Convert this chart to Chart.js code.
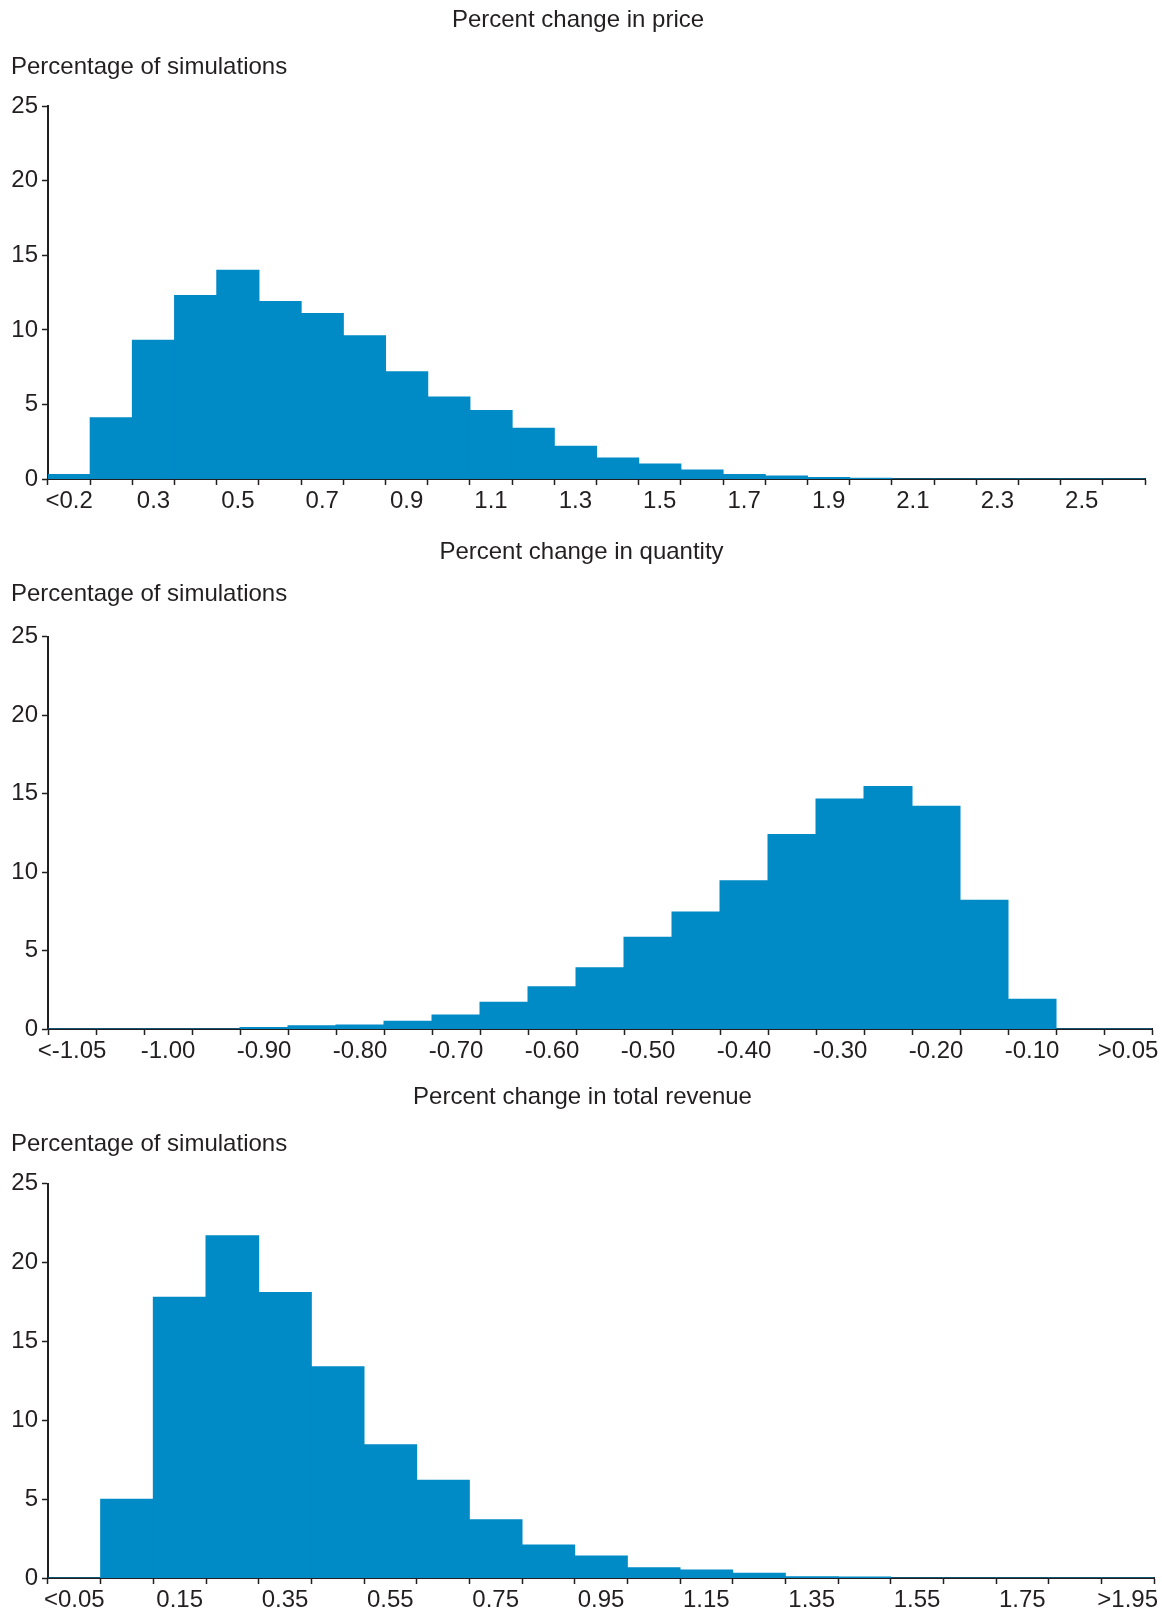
<!DOCTYPE html>
<html>
<head>
<meta charset="utf-8">
<title>Percent change simulations</title>
<script src="https://cdn.jsdelivr.net/npm/chart.js@4.4.1/dist/chart.umd.min.js"></script>
<style>
    body { margin: 0; background: #ffffff; }
    .panel { position: absolute; left: 0; width: 1162px; }
</style>
</head>
<body>
<div class="panel" style="top:0px;height:514px"><canvas id="priceChart"></canvas></div>
<div class="panel" style="top:532px;height:532px"><canvas id="quantityChart"></canvas></div>
<div class="panel" style="top:1077px;height:536px"><canvas id="revenueChart"></canvas></div>
<script>
// bins of each histogram (only every other label is printed)
const priceLabels = ["<0.2", "0.2", "0.3", "0.4", "0.5", "0.6", "0.7", "0.8", "0.9", "1.0", "1.1", "1.2", "1.3",
    "1.4", "1.5", "1.6", "1.7", "1.8", "1.9", "2.0", "2.1", "2.2", "2.3", "2.4", "2.5", "2.6"];
const priceValues = [0.3, 4.1, 9.3, 12.3, 14.0, 11.9, 11.1, 9.6, 7.2, 5.5, 4.6, 3.4, 2.2,
    1.4, 1.0, 0.6, 0.3, 0.2, 0.1, 0.05, 0, 0, 0, 0, 0, 0];

const quantityLabels = ["<-1.05", "-1.05", "-1.00", "-0.95", "-0.90", "-0.85", "-0.80", "-0.75", "-0.70", "-0.65",
    "-0.60", "-0.55", "-0.50", "-0.45", "-0.40", "-0.35", "-0.30", "-0.25", "-0.20", "-0.15", "-0.10", "-0.05", ">0.05"];
const quantityValues = [0, 0, 0, 0, 0.1, 0.2, 0.25, 0.5, 0.9, 1.7,
    2.7, 3.9, 5.85, 7.45, 9.45, 12.4, 14.65, 15.45, 14.2, 8.2, 1.9, 0, 0];

const revenueLabels = ["<0.05", "0.05", "0.15", "0.25", "0.35", "0.45", "0.55", "0.65", "0.75", "0.85", "0.95",
    "1.05", "1.15", "1.25", "1.35", "1.45", "1.55", "1.65", "1.75", "1.85", ">1.95"];
const revenueValues = [0, 5.0, 17.8, 21.7, 18.1, 13.4, 8.45, 6.2, 3.7, 2.1, 1.4,
    0.65, 0.5, 0.3, 0.08, 0.06, 0, 0, 0, 0, 0];

const yAxisTitle = "Percentage of simulations";
const yMax = 25;
const yStep = 5;

const ink = "#231f20";
const barBlue = "#008ac6";

Chart.defaults.font.family = "'Liberation Sans', Arial, Helvetica, sans-serif";
Chart.defaults.font.size = 24;
Chart.defaults.color = ink;

function histogram(canvasId, title, labels, values, space) {
    const ctx = document.getElementById(canvasId).getContext('2d');
    return new Chart(ctx, {
        type: 'bar',
        data: {
            labels: labels,
            datasets: [{
                data: values,
                backgroundColor: barBlue,
                borderWidth: 0,
                inflateAmount: 0.5,
                categoryPercentage: 1.0,
                barPercentage: 1.0
            }]
        },
        options: {
            responsive: true,
            maintainAspectRatio: false,
            animation: false,
            layout: {
                padding: { left: 11, right: space.right, top: 0, bottom: 0 }
            },
            plugins: {
                legend: { display: false },
                tooltip: { enabled: false },
                title: {
                    display: true,
                    text: title,
                    font: { weight: 'normal' },
                    padding: { top: 6, bottom: 0 }
                },
                subtitle: {
                    display: true,
                    text: yAxisTitle,
                    align: 'start',
                    color: ink,
                    font: { size: 24, weight: 'normal' },
                    padding: { top: space.subTop, bottom: space.subBottom }
                }
            },
            scales: {
                x: {
                    offset: true,
                    z: 1,
                    afterFit: function (scale) {
                        scale.height = 35;
                    },
                    grid: {
                        offset: true,
                        drawOnChartArea: false,
                        tickLength: 6,
                        tickWidth: 1.5,
                        tickColor: ink
                    },
                    border: { color: ink, width: 2 },
                    ticks: {
                        autoSkip: false,
                        maxRotation: 0,
                        padding: 2,
                        callback: function (value, index) {
                            return index % 2 === 0 ? this.getLabelForValue(value) : '';
                        }
                    }
                },
                y: {
                    min: 0,
                    max: yMax,
                    z: 1,
                    afterFit: function (scale) {
                        scale.width = 37;
                    },
                    grid: {
                        drawOnChartArea: false,
                        tickLength: 6,
                        tickWidth: 1.5,
                        tickColor: ink
                    },
                    border: { color: ink, width: 2 },
                    ticks: { stepSize: yStep, padding: 4 }
                }
            }
        }
    });
}

histogram('priceChart', 'Percent change in price', priceLabels, priceValues,
    { subTop: 18.6, subBottom: 24.0, right: 17 });
histogram('quantityChart', 'Percent change in quantity', quantityLabels, quantityValues,
    { subTop: 13.6, subBottom: 27.5, right: 10 });
histogram('revenueChart', 'Percent change in total revenue', revenueLabels, revenueValues,
    { subTop: 18.1, subBottom: 25.0, right: 8 });
</script>
</body>
</html>
